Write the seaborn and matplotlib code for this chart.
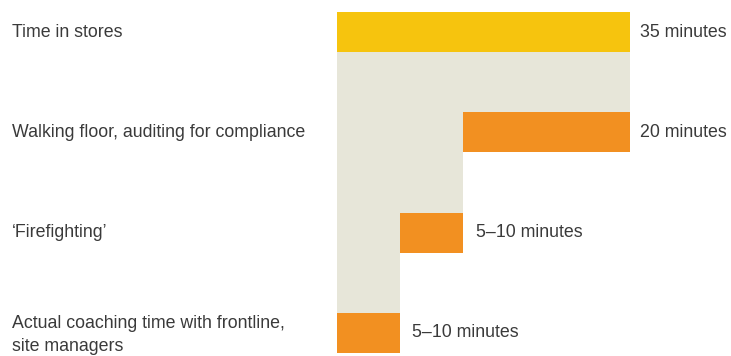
import numpy as np
import pandas as pd
import seaborn as sns
import matplotlib.pyplot as plt
import matplotlib.transforms as mtransforms

# data
stages = ["Time in stores",
          "Walking floor, auditing for compliance",
          "\u2018Firefighting\u2019",
          "Actual coaching time with frontline,\nsite managers"]
stage_start = [0, 15, 7.5, 0]        # minutes, left edge of each bar
stage_end = [35, 35, 15, 7.5]        # minutes, right edge of each bar
value_labels = ["35 minutes", "20 minutes", "5\u201310 minutes", "5\u201310 minutes"]
bar_colors = ["#F6C40E", "#F29021", "#F29021", "#F29021"]
beige = "#E7E6D9"

if __name__ == "__main__":
    sns.set_theme(style="white")
    plt.rcParams['font.family'] = ['Liberation Sans Narrow', 'Liberation Sans', 'DejaVu Sans']

    df = pd.DataFrame({'stage': stages, 'start': stage_start, 'end': stage_end})

    fig = plt.figure(figsize=(7.31, 3.56), dpi=100)
    ax = fig.add_axes([0, 0, 1, 1])

    bar_h = 0.4
    # beige staircase behind the bars: from bottom of the previous bar to bottom of this one
    pos = np.arange(len(stages))
    ax.barh(pos[1:] - 1 + bar_h / 2, df['end'][1:], height=1.0, align='edge',
            color=beige, linewidth=0, zorder=0)

    sns.barplot(data=df, x='end', y='stage', hue='stage', palette=bar_colors,
                saturation=1, width=bar_h, linewidth=0, legend=False, ax=ax, zorder=2)
    sns.barplot(data=df, x='start', y='stage', color=beige, saturation=1,
                width=bar_h, linewidth=0, ax=ax, zorder=3)

    px = 293 / 35.0
    ax.set_xlim(-337 / px, 35 + (731 - 630) / px)
    ax.set_ylim(3.23, -0.32)
    ax.axis('off')

    trans = mtransforms.blended_transform_factory(ax.transAxes, ax.transData)
    offsets = [7, 7, 10, 9]
    for i, name in enumerate(stages):
        ax.text(12 / 731, i + (0.02 if i == 3 else 0.0), name, transform=trans,
                ha='left', va='center', fontsize=12.8, color='#3a3a3a', linespacing=1.4)
        ax.annotate(value_labels[i], xy=(df['end'][i], i), xytext=(offsets[i], 0),
                    textcoords='offset points', ha='left', va='center',
                    fontsize=12.8, color='#3a3a3a')

    fig.savefig('out.png', dpi=100)
